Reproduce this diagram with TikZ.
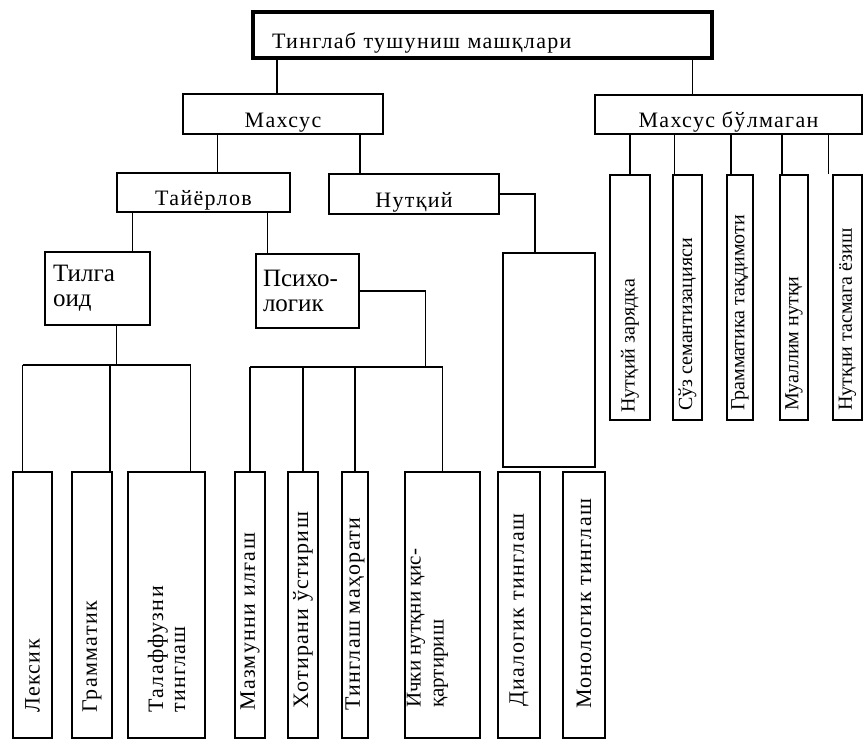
\documentclass[tikz,border=0pt]{standalone}
\usepackage{fontspec}
\setmainfont{Liberation Serif}
\newfontfamily\sparse[LetterSpace=6]{Liberation Serif}
\usepackage{tikz}

\tikzset{
  frame/.style={draw, line width=1.9pt, inner sep=0pt},
  headbox/.style={frame, font=\sparse\fontsize{22}{24}\selectfont,
    text height=26pt, text depth=0pt},
  sidebox/.style={frame, text width=89pt, align=left,
    font=\fontsize{25}{25}\selectfont},
  uptext/.style={rotate=90, anchor=west, inner sep=0pt, align=left},
  lowlab/.style={uptext, font=\sparse\fontsize{22}{22}\selectfont},
  tightlab/.style={uptext, font=\fontsize{21}{23}\selectfont},
  rightlab/.style={uptext, font=\fontsize{20}{22}\selectfont},
}

\begin{document}
\begin{tikzpicture}[x=1pt,y=-1pt]
  \useasboundingbox[fill=white] (0,0) rectangle (863,740);

  % upper levels
  \node[headbox, line width=3.2pt, minimum width=459, minimum height=46,
    text width=421pt, align=left, inner xsep=19pt] (top) at (482.5,35)
    {Тинглаб тушуниш машқлари};
  \node[headbox, minimum width=200, minimum height=40] (maxsus) at (283,114) {Махсус};
  \node[headbox, minimum width=267, minimum height=39] (mb) at (728.5,114.5) {Махсус бўлмаган};
  \node[headbox, minimum width=173, minimum height=39] (tayyor) at (203.5,192.5) {Тайёрлов};
  \node[headbox, minimum width=170, minimum height=40] (nutq) at (414,194) {Нутқий};
  \node[sidebox, minimum width=105, minimum height=73, inner xsep=8pt] (tilga) at (97.5,288.5) {Тилга\\оид};
  \node[sidebox, minimum width=103, minimum height=74, inner xsep=7pt] (psix) at (307.5,291) {Психо-\\логик};
  \node[frame, minimum width=92, minimum height=214] (emp) at (549,360) {};

  % lower boxes
  \node[frame, minimum width=39, minimum height=266] (leksik) at (32.5,605) {};
  \node[frame, minimum width=40, minimum height=266] (gram) at (92,605) {};
  \node[frame, minimum width=77, minimum height=266] (talaf) at (166.5,605) {};
  \node[frame, minimum width=30, minimum height=266] (mazmun) at (250,605) {};
  \node[frame, minimum width=30, minimum height=266] (xotira) at (303,605) {};
  \node[frame, minimum width=26, minimum height=266] (mahorat) at (355,605) {};
  \node[frame, minimum width=75, minimum height=266] (ichki) at (442.5,605) {};
  \node[frame, minimum width=42, minimum height=266] (dialog) at (519,605) {};
  \node[frame, minimum width=42, minimum height=266] (monolog) at (584,605) {};

  \node[lowlab] (leksikT) at ([yshift=26]leksik.south) {Лексик};
  \node[lowlab] (gramT) at ([yshift=26]gram.south) {Грамматик};
  \node[lowlab] (talafT) at ([yshift=26]talaf.south) {Талаффузни\\тинглаш};
  \node[lowlab] (mazmunT) at ([yshift=28]mazmun.south) {Мазмунни илғаш};
  \node[lowlab] (xotiraT) at ([yshift=30]xotira.south) {Хотирани ўстириш};
  \node[lowlab] (mahoratT) at ([yshift=28]mahorat.south) {Тинглаш маҳорати};
  \node[tightlab] (ichkiT) at ([xshift=-15,yshift=31]ichki.south) {Ички нутқни қис-\\қартириш};
  \node[lowlab] (dialogT) at ([yshift=32]dialog.south) {Диалогик тинглаш};
  \node[lowlab] (monologT) at ([yshift=30]monolog.south) {Монологик тинглаш};

  % right column
  \node[frame, minimum width=40, minimum height=245] (zaryad) at (630,297.5) {};
  \node[frame, minimum width=29, minimum height=245] (soz) at (687.5,297.5) {};
  \node[frame, minimum width=26, minimum height=245] (gramt) at (740,297.5) {};
  \node[frame, minimum width=28, minimum height=245] (muallim) at (794,297.5) {};
  \node[frame, minimum width=29, minimum height=245] (tasma) at (847.5,297.5) {};

  \node[rightlab] (zaryadT) at ([yshift=8]zaryad.south) {Нутқий зарядка};
  \node[rightlab] (sozT) at ([yshift=10]soz.south) {Сўз семантизацияси};
  \node[rightlab] (gramtT) at ([yshift=10]gramt.south) {Грамматика тақдимоти};
  \node[rightlab] (muallimT) at ([yshift=10]muallim.south) {Муаллим нутқи};
  \node[rightlab] (tasmaT) at ([yshift=10]tasma.south) {Нутқни тасмага ёзиш};

  % connectors
  \coordinate (busT) at (0,365);
  \coordinate (busP) at (0,367);
  \begin{scope}[line width=1.9pt]
    \draw ([xshift=-6]maxsus.north) -- ([xshift=-6]maxsus.north |- top.south);
    \draw ([xshift=-36]mb.north) -- ([xshift=-36]mb.north |- top.south);
    \draw ([xshift=14]tayyor.north) -- ([xshift=14]tayyor.north |- maxsus.south);
    \draw ([xshift=-54]nutq.north) -- ([xshift=-54]nutq.north |- maxsus.south);
    \draw ([xshift=35]tilga.north) -- ([xshift=35]tilga.north |- tayyor.south);
    \draw ([xshift=-40]psix.north) -- ([xshift=-40]psix.north |- tayyor.south);
    \draw (nutq.east) -| ([xshift=-14]emp.north);

    \draw ([xshift=19]tilga.south) -- ([xshift=19]tilga.south |- busT);
    \draw ([xshift=-10]leksik.north |- busT) -- ([xshift=24]talaf.north |- busT);
    \foreach \n/\s in {leksik/-10,gram/18,talaf/24}
      \draw ([xshift=\s]\n.north |- busT) -- ([xshift=\s]\n.north);

    \draw (psix.east) -| ([xshift=-17]ichki.north |- busP);
    \draw (mazmun.north |- busP) -- (ichki.north |- busP);
    \foreach \n in {mazmun,xotira,mahorat,ichki}
      \draw (\n.north |- busP) -- (\n.north);

    \foreach \n/\s in {zaryad/0,soz/-13,gramt/-9,muallim/-12,tasma/-19}
      \draw ([xshift=\s]\n.north |- mb.south) -- ([xshift=\s]\n.north);
  \end{scope}
\end{tikzpicture}
\end{document}
